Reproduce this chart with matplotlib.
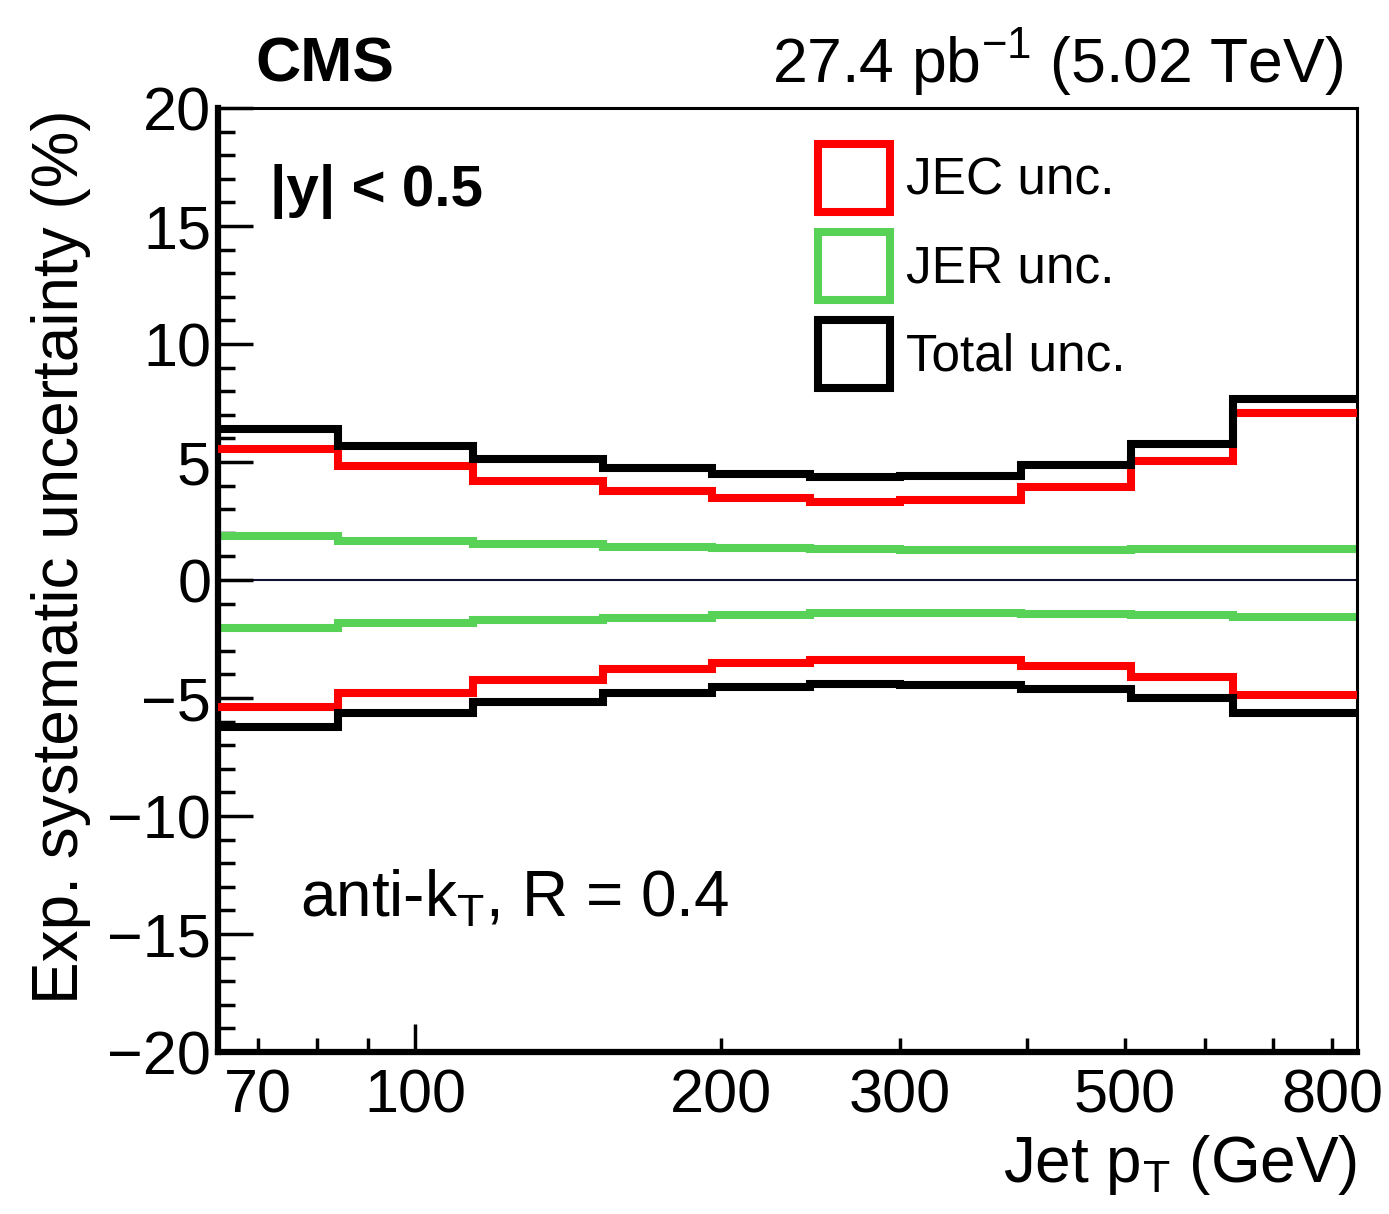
import matplotlib
matplotlib.use('Agg')
import matplotlib.pyplot as plt
from matplotlib.patches import Patch

plt.rcParams['font.family'] = ['Liberation Sans', 'DejaVu Sans']
plt.rcParams['mathtext.fontset'] = 'custom'
plt.rcParams['mathtext.rm'] = 'Liberation Sans'
plt.rcParams['mathtext.it'] = 'Liberation Sans'

# bin edges in jet pT (GeV)
pt_edges = [64, 84, 114, 153, 196, 245, 300, 395, 507, 638, 846]

# uncertainties (%) per bin
jec_up = [5.55, 4.83, 4.19, 3.77, 3.47, 3.31, 3.39, 3.94, 5.04, 7.08]
jec_down = [-5.38, -4.79, -4.24, -3.79, -3.52, -3.39, -3.39, -3.64, -4.11, -4.87]
jer_up = [1.86, 1.65, 1.52, 1.42, 1.36, 1.31, 1.29, 1.29, 1.33, 1.33]
jer_down = [-2.03, -1.82, -1.69, -1.61, -1.46, -1.40, -1.40, -1.44, -1.48, -1.57]
tot_up = [6.40, 5.68, 5.13, 4.75, 4.49, 4.36, 4.41, 4.87, 5.76, 7.67]
tot_down = [-6.23, -5.64, -5.17, -4.79, -4.53, -4.41, -4.45, -4.62, -5.00, -5.64]

xtick_major = [100]
xtick_minor = [70, 80, 90, 200, 300, 400, 500, 600, 700, 800]
xtick_minor_labels = ['70', '', '', '200', '300', '', '500', '', '', '800']

RED = '#ff0000'
GREEN = '#57d257'
BLACK = '#000000'
LW = 5.8

fig = plt.figure(figsize=(13.89, 12.14), dpi=100)
ax = fig.add_axes([0.157, 0.1334, 0.82, 0.7776])

ax.axhline(0, color='#101030', lw=1.5, zorder=1)
ax.stairs(jer_up, pt_edges, color=GREEN, lw=LW, baseline=None, zorder=2)
ax.stairs(jer_down, pt_edges, color=GREEN, lw=LW, baseline=None, zorder=2)
ax.stairs(jec_up, pt_edges, color=RED, lw=LW, baseline=None, zorder=3)
ax.stairs(jec_down, pt_edges, color=RED, lw=LW, baseline=None, zorder=3)
ax.stairs(tot_up, pt_edges, color=BLACK, lw=LW, baseline=None, zorder=4)
ax.stairs(tot_down, pt_edges, color=BLACK, lw=LW, baseline=None, zorder=4)

ax.set_xscale('log')
ax.set_xlim(pt_edges[0], pt_edges[-1])
ax.set_ylim(-20, 20)

ax.set_xticks(xtick_major, labels=['100'])
ax.set_xticks(xtick_minor, labels=xtick_minor_labels, minor=True)
ax.set_yticks(range(-20, 21, 5))
ax.set_yticks(range(-20, 21, 1), minor=True)
ax.set_yticklabels(['\u221220', '\u221215', '\u221210', '\u22125', '0', '5', '10', '15', '20'])

ax.tick_params(axis='both', which='both', direction='in', width=2.5, colors='black')
ax.tick_params(axis='y', which='major', length=25, labelsize=44, pad=5)
ax.tick_params(axis='y', which='minor', length=12)
ax.tick_params(axis='x', which='major', length=20, labelsize=44, pad=12)
ax.tick_params(axis='x', which='minor', length=10, labelsize=44, pad=12)

for side in ['top', 'right']:
    ax.spines[side].set_linewidth(2.2)
for side in ['left', 'bottom']:
    ax.spines[side].set_linewidth(4.5)

handles = [
    Patch(facecolor='none', edgecolor=RED, lw=LW, label='JEC unc.'),
    Patch(facecolor='none', edgecolor=GREEN, lw=LW, label='JER unc.'),
    Patch(facecolor='none', edgecolor=BLACK, lw=LW, label='Total unc.'),
]
ax.legend(handles=handles, loc='upper left', bbox_to_anchor=(0.527, 0.962),
          frameon=False, fontsize=37, handlelength=1.4, handleheight=1.66,
          handletextpad=0.3, labelspacing=0.39, borderpad=0, borderaxespad=0)

fig.text(0.1836, 0.9325, 'CMS', fontsize=45, fontweight='bold', va='baseline', ha='left')
fig.text(0.967, 0.9325, r'27.4 pb$^{\mathrm{-1}}$ (5.02 TeV)', fontsize=45,
         va='baseline', ha='right')
ax.text(0.046, 0.896, '|y| < 0.5', transform=ax.transAxes, fontsize=42,
        fontweight='bold', va='baseline', ha='left')
ax.text(0.072, 0.143, r'anti-k$_\mathrm{T}$, R = 0.4', transform=ax.transAxes,
        fontsize=46, va='baseline', ha='left')

fig.text(0.977, 0.026, r'Jet p$_\mathrm{T}$ (GeV)', fontsize=46, va='baseline', ha='right')
fig.text(0.044, 0.91, 'Exp. systematic uncertainty (%)', fontsize=46,
         rotation=90, va='top', ha='center')

fig.savefig('out.png', dpi=100)
